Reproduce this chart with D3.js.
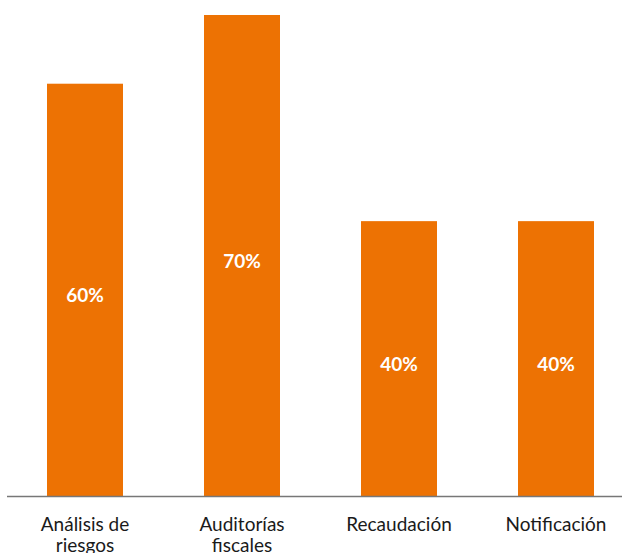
<!DOCTYPE html>
<html>
<head>
<meta charset="utf-8">
<script src="https://cdn.jsdelivr.net/npm/d3@7"></script>
<style>
  html, body { margin: 0; padding: 0; background: #fff; }
  svg { display: block; }
</style>
</head>
<body>
<svg id="chart" width="622" height="553"></svg>
<script>
const categories = ["Análisis de riesgos", "Auditorías fiscales", "Recaudación", "Notificación"];
const values = [60, 70, 40, 40];
const valueLabels = ["60%", "70%", "40%", "40%"];

const W = 622, H = 553;
const baseY = 496;
const svg = d3.select("#chart");
const font = "Lato, 'Open Sans', sans-serif";

const x = d3.scaleBand()
  .domain(categories)
  .range([6.5, 634.5])
  .paddingInner(0.516)
  .paddingOuter(0.258);

const y = d3.scaleLinear().domain([0, 70]).range([baseY, 15]);

// bars
svg.append("g").selectAll("rect")
  .data(categories)
  .join("rect")
  .attr("x", d => x(d))
  .attr("y", (d, i) => y(values[i]))
  .attr("width", x.bandwidth())
  .attr("height", (d, i) => baseY - y(values[i]))
  .attr("fill", "#ED7203");

// value labels inside the bars
svg.append("g").selectAll("text")
  .data(categories)
  .join("text")
  .attr("x", d => x(d) + x.bandwidth() / 2)
  .attr("y", (d, i) => (y(values[i]) + baseY) / 2 + 5)
  .attr("text-anchor", "middle")
  .attr("dominant-baseline", "central")
  .attr("fill", "#fff")
  .attr("font-family", font)
  .attr("font-weight", "bold")
  .attr("font-size", 19)
  .text((d, i) => valueLabels[i]);

// baseline axis
const axis = d3.axisBottom(x).tickSize(0).tickPadding(0);
const gx = svg.append("g").attr("transform", `translate(0,${baseY})`).call(axis);
gx.select(".domain").remove();
gx.append("line")
  .attr("x1", 7).attr("x2", W)
  .attr("y1", 0.5).attr("y2", 0.5)
  .attr("stroke", "#777").attr("stroke-width", 1.5);

// category labels, wrapped onto two lines where needed
gx.selectAll(".tick text")
  .attr("font-family", font)
  .attr("font-size", 19)
  .attr("fill", "#1a1a1a")
  .attr("dy", null)
  .attr("y", 0)
  .each(function(d) {
    const t = d3.select(this);
    const words = d.split(" ");
    const lines = [];
    if (words.length > 2) {
      lines.push(words.slice(0, 2).join(" "));
      lines.push(words.slice(2).join(" "));
    } else if (words.length === 2) {
      lines.push(words[0]);
      lines.push(words[1]);
    } else {
      lines.push(d);
    }
    t.text(null);
    lines.forEach((ln, k) => {
      t.append("tspan").attr("x", 0).attr("y", 35 + k * 21).text(ln);
    });
  });
</script>
</body>
</html>
